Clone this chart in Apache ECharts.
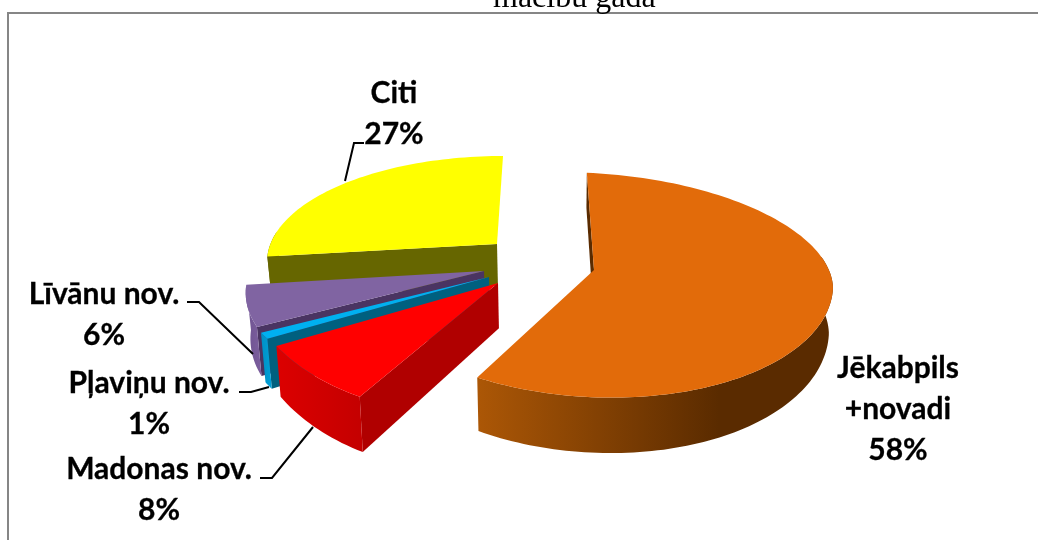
<!DOCTYPE html>
<html><head><meta charset="utf-8">
<style>html,body{margin:0;padding:0;background:#fff}#c{width:1038px;height:540px}</style>
<script src="https://cdn.jsdelivr.net/npm/echarts@6/dist/echarts.min.js"></script>
</head><body><div id="c"></div>
<script>
const categories = ['Jēkabpils\n+novadi', 'Madonas nov.', 'Pļaviņu nov.', 'Līvānu nov.', 'Citi'];
const shares = [58, 8, 1, 6, 27];
const startAngle = -1;
const topColors = ['#e26b0a', '#ff0000', '#00b0f0', '#8064a2', '#ffff00'];
const innerColors = ['#5a2b00', '#b00000', '#00607f', '#4a3462', '#666600'];
const outerStops = [
  [[0, '#ac5706'], [0.68, '#5a2b00'], [1, '#5a2b00']],
  [[0, '#dc0000'], [1, '#c40000']],
  [[0, '#0090c4'], [1, '#00a0d8']],
  [[0, '#6e5290'], [1, '#7c5f9e']],
  [[0, '#666600'], [1, '#666600']]
];
// projected apex, rim centre, radii and perspective terms for each exploded slice
const sliceShapes = [
  { ax: 594, ay: 270, cx: 594, cy: 276, rx: 239, rb: 103, rf: 121, s: 0, t: 12, qb: -3, qf: 6, k: 1, w: 0 },
  { ax: 498, ay: 283, cx: 498, cy: 283, rx: 249, rb: 96, rf: 132, s: -14, t: 0, qb: 0, qf: 25, k: 1, w: 0 },
  { ax: 489, ay: 277, cx: 489, cy: 277, rx: 245, rb: 96, rf: 112, s: 0, t: 0, qb: 0, qf: 31, k: 1, w: 0 },
  { ax: 484, ay: 271, cx: 484, cy: 271, rx: 233, rb: 96, rf: 117, s: -3, t: 0, qb: 0, qf: 50, k: 1, w: 0 },
  { ax: 497, ay: 244, cx: 503, cy: 262, rx: 236, rb: 106, rf: 106, s: 0, t: 0, qb: 0, qf: 0, k: 0.895, w: 38.7 }
];
const labelAnchors = [[898, 409], [159, 490], [149, 404], [104, 315], [394, 114]];
const leaders = [
  null,
  [[260, 478], [272, 478], [313, 427]],
  [[239, 392], [251, 392], [269, 387]],
  [[187, 302], [199, 302], [253, 354]],
  [[364, 143], [354, 143], [345, 181]]
];

const total = shares.reduce((a, b) => a + b, 0);
const spans = [];
shares.reduce((from, v) => { const to = from + v / total * 360; spans.push([from, to]); return to; }, startAngle);

function rimPoint(g, deg) {
  const t = (deg * g.k + g.w) * Math.PI / 180, sn = Math.sin(t), cs = Math.cos(t);
  return {
    p: [
      g.cx + g.rx * sn + (cs >= 0 ? g.qb : g.qf) * cs,
      g.cy - (cs >= 0 ? g.rb : g.rf) * cs + g.s * sn * sn + g.t * sn
    ],
    cs: cs
  };
}
function drop(p) {
  return [p[0] + (560 - p[0]) * 0.015, p[1] + 44 + 0.09 * (p[1] - 270)];
}
function renderSlice(params, api) {
  const i = api.value(0);
  const g = sliceShapes[i], a0 = spans[i][0], a1 = spans[i][1];
  const rim = [];
  const n = Math.max(6, Math.round((a1 - a0) / 1.5));
  for (let k = 0; k <= n; k++) rim.push(rimPoint(g, a0 + (a1 - a0) * k / n));
  const arc = rim.map(r => r.p);
  const front = rim.filter(r => r.cs < 0.3).map(r => r.p);
  const apex = [g.ax, g.ay];
  const children = [];
  const wall = (pts, fill) => children.push({ type: 'polygon', shape: { points: pts }, style: { fill: fill, stroke: null } });
  const first = arc[0];
  wall([apex, first, drop(first), drop(apex)], innerColors[i]);
  wall(front.concat(front.map(drop).reverse()), new echarts.graphic.LinearGradient(0, 0, 1, 0,
    outerStops[i].map(s => ({ offset: s[0], color: s[1] }))));
  wall([apex].concat(arc), topColors[i]);
  if (leaders[i]) children.push({ type: 'polyline', z2: 20, shape: { points: leaders[i] },
    style: { stroke: '#000', lineWidth: 2, fill: null } });
  children.push({ type: 'text', z2: 30, x: labelAnchors[i][0], y: labelAnchors[i][1], style: {
    text: categories[i] + '\n' + shares[i] + '%', fill: '#000', align: 'center', verticalAlign: 'middle',
    font: 'bold 30px Lato', lineHeight: 41, stroke: '#000', lineWidth: 0.3 } });
  return { type: 'group', children: children };
}

const chart = echarts.init(document.getElementById('c'), null, { renderer: 'canvas' });
chart.setOption({
  animation: false,
  backgroundColor: '#fff',
  title: { text: 'mācību gadā', left: 488, top: -22,
    textStyle: { fontFamily: 'Liberation Serif', fontWeight: 'normal', fontSize: 32, color: '#000' } },
  graphic: [{ type: 'rect', z: -1, shape: { x: 8, y: 13, width: 1060, height: 560 },
    style: { fill: 'none', stroke: '#868686', lineWidth: 2 } }],
  series: [{
    type: 'custom', coordinateSystem: 'none', renderItem: renderSlice,
    data: [[4], [3], [2], [1], [0]], silent: true
  }]
});
</script></body></html>
